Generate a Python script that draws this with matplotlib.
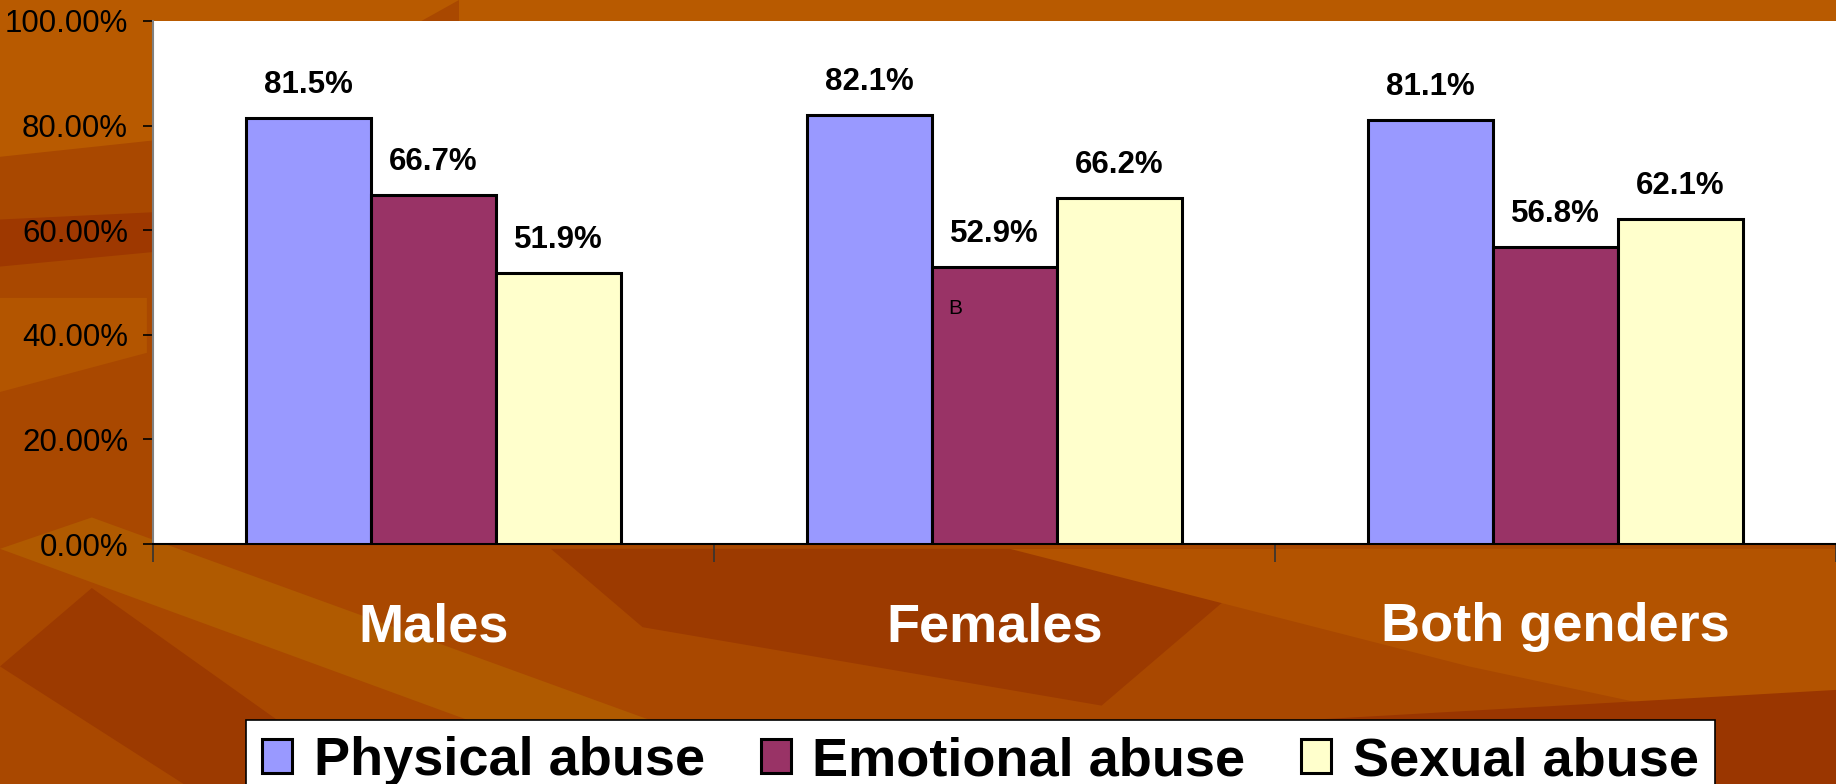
import matplotlib
matplotlib.use("Agg")
import matplotlib.pyplot as plt
from matplotlib.patches import Polygon, Rectangle
import numpy as np

categories = ["Males", "Females", "Both genders"]
series_names = ["Physical abuse", "Emotional abuse", "Sexual abuse"]
physical = [81.5, 82.1, 81.1]
emotional = [66.7, 52.9, 56.8]
sexual = [51.9, 66.2, 62.1]
colors = ["#9999FF", "#993366", "#FFFFCC"]
yticks = [0, 20, 40, 60, 80, 100]
ytick_labels = ["0.00%", "20.00%", "40.00%", "60.00%", "80.00%", "100.00%"]

plt.rcParams['font.family'] = ['Liberation Sans', 'DejaVu Sans']

W, H = 1836, 784
fig = plt.figure(figsize=(W / 100, H / 100), dpi=100)
fig.patch.set_facecolor("#A94800")

# decorative background (separate axes behind everything)
bgax = fig.add_axes([0, 0, 1, 1], zorder=-10)
bgax.set_xlim(0, 1)
bgax.set_ylim(0, 1)
bgax.axis("off")
bg = [
    ([(0, 1), (0.25, 1), (0.12, 0.83), (0, 0.8)], "#B85A00"),
    ([(0.0, 0.72), (0.09, 0.73), (0.09, 0.68), (0.0, 0.66)], "#9E3800"),
    ([(0.0, 0.62), (0.08, 0.62), (0.08, 0.55), (0.0, 0.50)], "#B35500"),
    ([(0.0, 0.30), (0.35, 0.0), (0.45, 0.0), (0.05, 0.34)], "#B05A00"),
    ([(0.3, 0.3), (0.7, 0.3), (0.6, 0.1), (0.35, 0.2)], "#9C3A00"),
    ([(0.55, 0.3), (1.0, 0.3), (1.0, 0.05), (0.8, 0.15)], "#B35300"),
    ([(0.70, 0.08), (1.0, 0.12), (1.0, 0.0), (0.75, 0.0)], "#9A3600"),
    ([(0.05, 0.25), (0.2, 0.0), (0.1, 0.0), (0.0, 0.15)], "#9C3A00"),
    ([(0.25, 1.0), (1.0, 1.0), (1.0, 0.95), (0.25, 0.95)], "#B85A00"),
]
for pts, c in bg:
    bgax.add_patch(Polygon(pts, closed=True, facecolor=c, edgecolor="none"))

ax = fig.add_axes([153 / W, 1 - 544 / H, (W - 153) / W, (544 - 21) / H])
ax.set_facecolor("white")

x = np.arange(len(categories))
bw = 0.223
data = [physical, emotional, sexual]
for i, (vals, c, name) in enumerate(zip(data, colors, series_names)):
    pos = x + (i - 1) * bw
    ax.bar(pos, vals, bw, color=c, edgecolor="black", linewidth=2.2,
           label=name, zorder=3)
    for xi, v in zip(pos, vals):
        ax.annotate(f"{v:.1f}%", (xi, v), xytext=(0, 13), textcoords="offset points",
                    ha="center", va="bottom", fontsize=22.5, fontweight="bold",
                    color="black")

# stray label inside the Females emotional bar
ax.text(x[1] - 0.07, 45, "B", fontsize=15, ha="center", va="center", color="black")

ax.set_xlim(-0.5, 2.5)
ax.set_ylim(0, 100)
ax.set_yticks(yticks)
ax.set_yticklabels(ytick_labels, fontsize=22.5)
ax.tick_params(axis="y", direction="out", length=7, width=1.2, pad=11, colors="black")

ax.set_xticks(x)
ax.set_xticklabels(categories, fontsize=39, fontweight="bold", color="white")
ax.tick_params(axis="x", which="major", length=0, pad=42)
ax.set_xticks([-0.5, 0.5, 1.5, 2.5], minor=True)
ax.tick_params(axis="x", which="minor", direction="out", length=13, width=1.2, color="#333333")

for s in ["top", "right"]:
    ax.spines[s].set_visible(False)
ax.spines["left"].set_color("#808080")
ax.spines["left"].set_linewidth(1.5)
ax.spines["bottom"].set_color("black")
ax.spines["bottom"].set_linewidth(1.5)

handles = [Rectangle((0, 0), 1, 1, facecolor=c, edgecolor="black", linewidth=2.2) for c in colors]
leg = fig.legend(handles, series_names, loc="upper left", ncol=3, mode="expand",
                 bbox_to_anchor=(246 / W, 1 - 720 / H, (1715 - 246) / W, 0),
                 prop={"family": "Liberation Sans", "weight": "bold", "size": 39},
                 frameon=True, fancybox=False, edgecolor="black", facecolor="white",
                 framealpha=1, handlelength=0.55, handleheight=0.6, handletextpad=0.4,
                 borderpad=0.3, borderaxespad=0, columnspacing=1.0)
leg.get_frame().set_linewidth(1.2)

fig.savefig("out.png", dpi=100, facecolor=fig.get_facecolor())
